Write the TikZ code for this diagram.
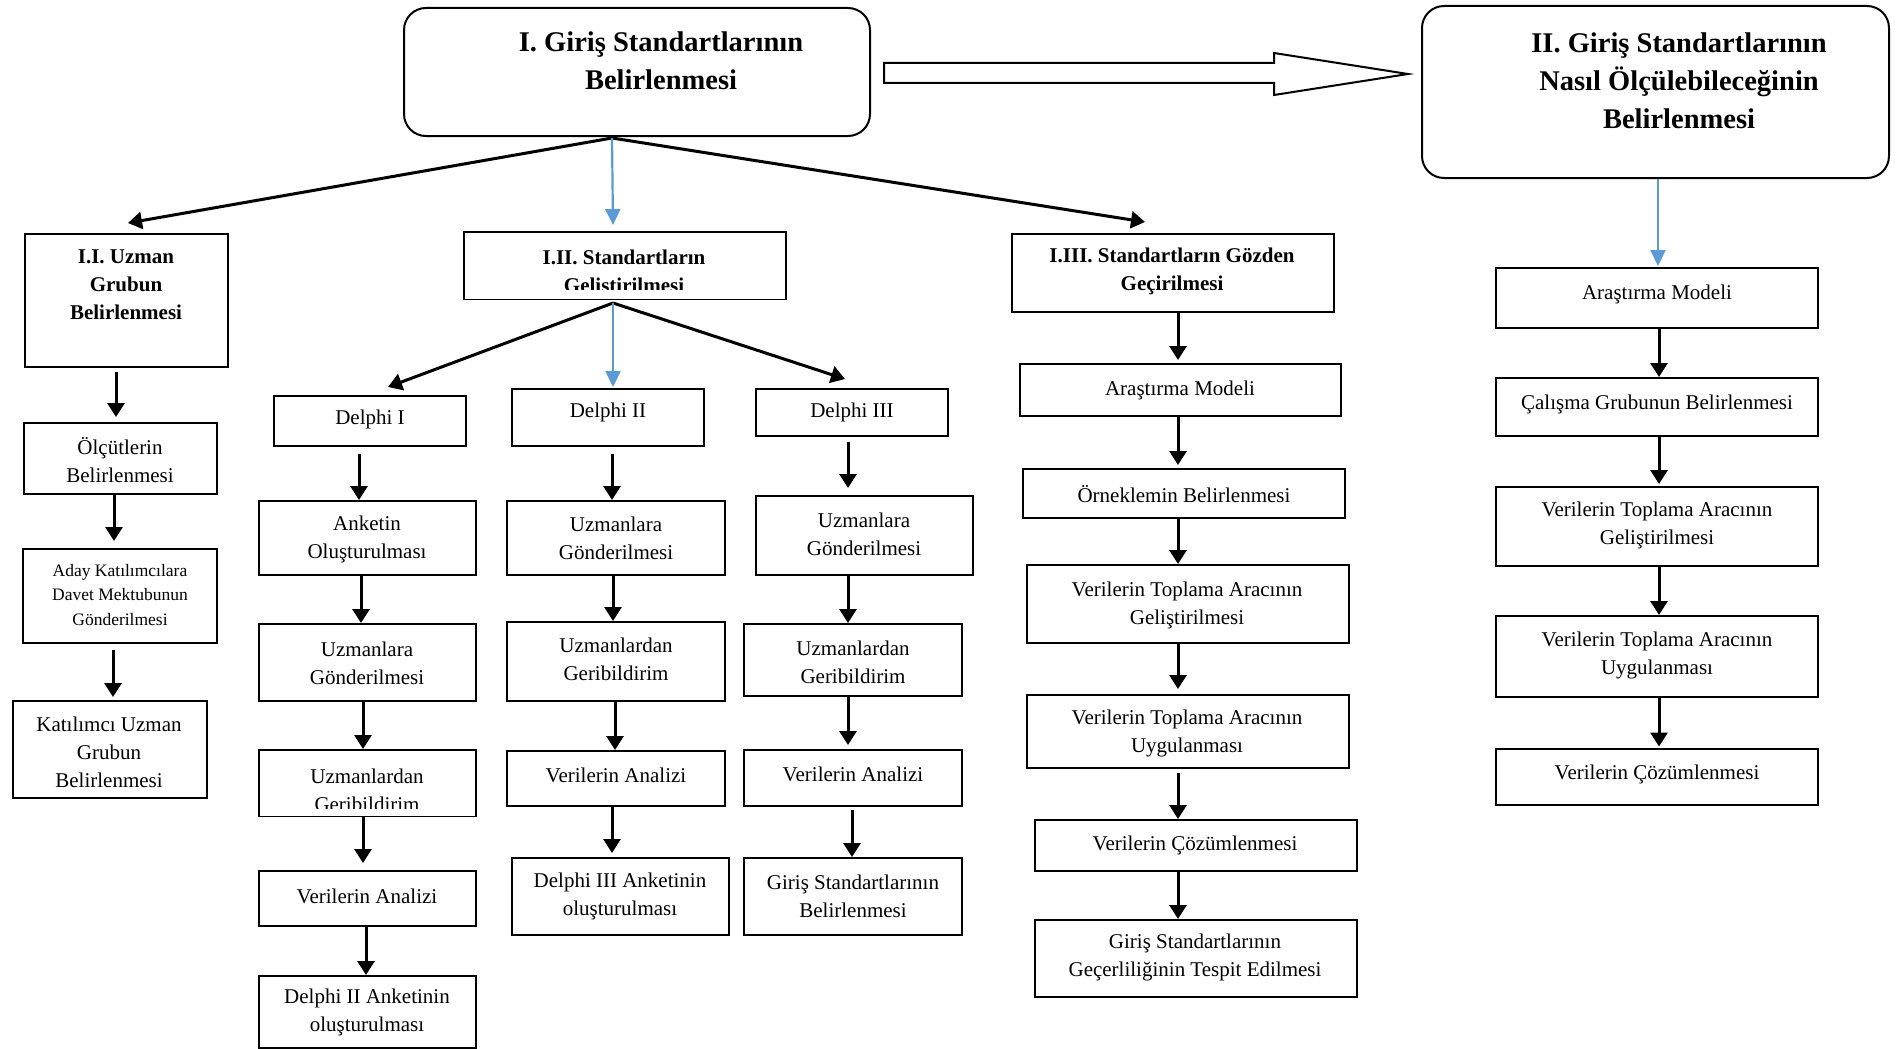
\documentclass[tikz,border=0pt]{standalone}
\usepackage{fontspec}
\setmainfont{Liberation Serif}
\usetikzlibrary{arrows.meta,calc}
\definecolor{lblue}{HTML}{5B9BD5}
\newcommand\drawbox[6][box]{\node[#1, minimum width={(#5)-(#3)}, minimum height={(#6)-(#4)}] (#2) at ({((#3)+(#5))/2},{((#4)+(#6))/2}) {};}
\newcommand\vconn[4][]{\draw[arr,#1] ($(#2.south)+(#4,0)$) -- ($(#2.south |- #3.north)+(#4,0)$);}
\begin{document}
\begin{tikzpicture}[x=1pt,y=-1pt,
  box/.style={draw, line width=2pt, inner sep=0pt},
  rbox/.style={draw, line width=2pt, rounded corners=22pt, inner sep=0pt},
  txt/.style={align=center, inner sep=0pt, font=\fontsize{21pt}{28pt}\selectfont},
  smalltxt/.style={align=center, inner sep=0pt, font=\fontsize{17.5pt}{24.7pt}\selectfont},
  subtitle/.style={align=center, inner sep=0pt, font=\fontsize{21pt}{28pt}\selectfont\bfseries},
  title/.style={align=center, inner sep=0pt, font=\fontsize{28.5pt}{38pt}\selectfont\bfseries},
  arr/.style={-{Triangle[length=14pt,width=17pt]}, line width=3pt},
  barr/.style={-{Triangle[length=16pt,width=15pt]}, line width=2.2pt, color=lblue},
  hollow/.style={draw, line width=2pt, line join=miter}
]
\fill[white] (0,0) rectangle (1901,1049);
\useasboundingbox (0,0) rectangle (1901,1049);

% ---------- top level ----------
\drawbox[rbox]{I}{404}{8}{870}{136}
\node[title] (tI) at (661,61) {I. Giriş Standartlarının\\Belirlenmesi};
\drawbox[rbox]{II}{1422}{6}{1889}{178}
\node[title] (tII) at (1679,80.5) {II. Giriş Standartlarının\\Nasıl Ölçülebileceğinin\\Belirlenmesi};
\draw[hollow] (884,63) -- (1274,63) -- (1274,53) -- (1408,74) -- (1274,95) -- (1274,83) -- (884,83) -- cycle;

% ---------- second level ----------
\drawbox{I1}{25}{234}{228}{367}
\node[subtitle] (tI1) at (126,285) {I.I. Uzman\\Grubun\\Belirlenmesi};
\drawbox{I2}{464}{232}{786}{299}
\node[subtitle] (tI2) at (624,273) {I.II. Standartların\\Geliştirilmesi};
\fill[white] ($(I2.south west)+(2,-10)$) rectangle ($(I2.south east)+(-2,-1.2)$);
\drawbox{I3}{1012}{234}{1334}{312}
\node[subtitle] (tI3) at (1172,271) {I.III. Standartların Gözden\\Geçirilmesi};

% ---------- left column ----------
\drawbox{olc}{24}{423}{217}{494}
\node[txt] (tolc) at (120,460) {Ölçütlerin\\Belirlenmesi};
\drawbox{aday}{23}{549}{217}{643}
\node[smalltxt] (taday) at (120,595) {Aday Katılımcılara\\Davet Mektubunun\\Gönderilmesi};
\drawbox{kat}{13}{701}{207}{798}
\node[txt] (tkat) at (109,752) {Katılımcı Uzman\\Grubun\\Belirlenmesi};

% ---------- Delphi I column ----------
\drawbox{d1}{274}{396}{466}{446}
\node[txt] (td1) at (370,419) {Delphi I};
\drawbox{ank}{259}{501}{476}{575}
\node[txt] (tank) at (367,539) {Anketin\\Oluşturulması};
\drawbox{uzA}{259}{624}{476}{701}
\node[txt] (tuzA) at (367,663) {Uzmanlara\\Gönderilmesi};
\drawbox{gbA}{259}{750}{476}{816}
\node[txt] (tgbA) at (367,790) {Uzmanlardan\\Geribildirim};
\fill[white] ($(gbA.south west)+(2,-8)$) rectangle ($(gbA.south east)+(-2,-1.2)$);
\drawbox{vaA}{259}{871}{476}{926}
\node[txt] (tvaA) at (367,896) {Verilerin Analizi};
\drawbox{d2ank}{259}{976}{476}{1047.5}
\node[txt] (td2ank) at (367,1012) {Delphi II Anketinin\\oluşturulması};

% ---------- Delphi II column ----------
\drawbox{d2}{512}{389}{704}{446}
\node[txt] (td2) at (608,412) {Delphi II};
\drawbox{uzB}{507}{501}{725}{575}
\node[txt] (tuzB) at (616,538) {Uzmanlara\\Gönderilmesi};
\drawbox{gbB}{507}{622}{725}{701}
\node[txt] (tgbB) at (616,659) {Uzmanlardan\\Geribildirim};
\drawbox{vaB}{507}{751}{725}{806}
\node[txt] (tvaB) at (616,775) {Verilerin Analizi};
\drawbox{d3ank}{512}{858}{729}{935}
\node[txt] (td3ank) at (620,896) {Delphi III Anketinin\\oluşturulması};

% ---------- Delphi III column ----------
\drawbox{d3}{756}{389}{948}{436}
\node[txt] (td3) at (852,412) {Delphi III};
\drawbox{uzC}{756}{496}{973}{575}
\node[txt] (tuzC) at (864,534) {Uzmanlara\\Gönderilmesi};
\drawbox{gbC}{744}{624}{962}{696}
\node[txt] (tgbC) at (853,662) {Uzmanlardan\\Geribildirim};
\drawbox{vaC}{744}{750}{962}{806}
\node[txt] (tvaC) at (853,774) {Verilerin Analizi};
\drawbox{gsb}{744}{858}{962}{935}
\node[txt] (tgsb) at (853,896) {Giriş Standartlarının\\Belirlenmesi};

% ---------- I.III column ----------
\drawbox{amA}{1020}{364}{1341}{416}
\node[txt] (tamA) at (1180,390) {Araştırma Modeli};
\drawbox{orn}{1023}{469}{1345}{518}
\node[txt] (torn) at (1184,494) {Örneklemin Belirlenmesi};
\drawbox{vtgA}{1027}{565}{1349}{643}
\node[txt] (tvtgA) at (1187,605) {Verilerin Toplama Aracının\\Geliştirilmesi};
\drawbox{vtuA}{1027}{695}{1349}{768}
\node[txt] (tvtuA) at (1187,733) {Verilerin Toplama Aracının\\Uygulanması};
\drawbox{vcA}{1035}{820}{1357}{871}
\node[txt] (tvcA) at (1195,845) {Verilerin Çözümlenmesi};
\drawbox{gg}{1035}{920}{1357}{997}
\node[txt] (tgg) at (1195,957) {Giriş Standartlarının\\Geçerliliğinin Tespit Edilmesi};

% ---------- right column ----------
\drawbox{amB}{1496}{268}{1818}{328}
\node[txt] (tamB) at (1657,294) {Araştırma Modeli};
\drawbox{cg}{1496}{378}{1818}{436}
\node[txt] (tcg) at (1657,404) {Çalışma Grubunun Belirlenmesi};
\drawbox{vtgB}{1496}{487}{1818}{566}
\node[txt] (tvtgB) at (1657,525) {Verilerin Toplama Aracının\\Geliştirilmesi};
\drawbox{vtuB}{1496}{616}{1818}{697}
\node[txt] (tvtuB) at (1657,655) {Verilerin Toplama Aracının\\Uygulanması};
\drawbox{vcB}{1496}{749}{1818}{805}
\node[txt] (tvcB) at (1657,774) {Verilerin Çözümlenmesi};

% ---------- diagonal / top connectors ----------
\coordinate (topsrc) at ($(I.south)+(-25,1)$);
\draw[arr] (topsrc) -- ($(I1.north)+(1.5,-10)$);
\draw[arr] (topsrc) -- ($(I3.north)+(-28,-11)$);
\draw[barr] (topsrc) -- ($(I2.north)+(-12,-6)$);
\coordinate (midsrc) at ($(I2.south)+(-12,3)$);
\draw[arr] (midsrc) -- ($(d1.north)+(18,-8)$);
\draw[arr] (midsrc) -- ($(d3.north)+(-7,-9)$);
\draw[barr] (midsrc) -- ($(d2.north)+(5,-1)$);
\draw[barr] ($(II.south)+(2.5,0)$) -- ($(amB.north)+(1,-1)$);

% ---------- vertical connectors ----------
\vconn[shorten <=4pt, shorten >=5pt]{I1}{olc}{-10.5}
\vconn[shorten >=7pt]{olc}{aday}{-6.5}
\vconn[shorten <=6pt, shorten >=3pt]{aday}{kat}{-7}

\vconn[shorten <=6.5pt]{d1}{ank}{-11}
\vconn{ank}{uzA}{-6.5}
\vconn{uzA}{gbA}{-4.5}
\vconn[shorten >=7pt]{gbA}{vaA}{-4.5}
\vconn{vaA}{d2ank}{-1.5}

\vconn[shorten <=6.5pt]{d2}{uzB}{4}
\vconn{uzB}{gbB}{-3}
\vconn{gbB}{vaB}{-1}
\vconn[shorten >=4pt]{vaB}{d3ank}{-4}

\vconn[shorten <=5pt, shorten >=7pt]{d3}{uzC}{-4}
\vconn{uzC}{gbC}{-16.5}
\vconn[shorten >=4pt]{gbC}{vaC}{-5}
\vconn[shorten <=3pt]{vaC}{gsb}{-1}

\vconn[shorten >=3pt]{I3}{amA}{5}
\vconn[shorten >=3pt]{amA}{orn}{-2.5}
\vconn{orn}{vtgA}{-6}
\vconn[shorten >=5pt]{vtgA}{vtuA}{-10}
\vconn[shorten <=3.5pt]{vtuA}{vcA}{-10}
\vconn{vcA}{gg}{-18}

\vconn{amB}{cg}{2}
\vconn[shorten >=2pt]{cg}{vtgB}{2}
\vconn{vtgB}{vtuB}{2}
\vconn[shorten >=1.5pt]{vtuB}{vcB}{2}
\end{tikzpicture}
\end{document}
